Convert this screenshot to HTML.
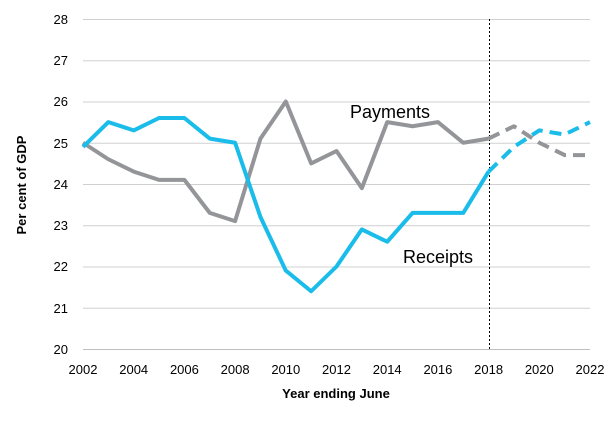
<!DOCTYPE html>
<html><head><meta charset="utf-8"><style>
html,body{margin:0;padding:0;background:#fff;}
svg{display:block;font-family:"Liberation Sans",sans-serif;}
</style></head><body>
<svg width="616" height="446" viewBox="0 0 616 446">
<g stroke="#d0d0d0" stroke-width="1">
<line x1="83" x2="590" y1="19.5" y2="19.5"/>
<line x1="83" x2="590" y1="60.75" y2="60.75"/>
<line x1="83" x2="590" y1="102" y2="102"/>
<line x1="83" x2="590" y1="143.25" y2="143.25"/>
<line x1="83" x2="590" y1="184.5" y2="184.5"/>
<line x1="83" x2="590" y1="225.75" y2="225.75"/>
<line x1="83" x2="590" y1="267" y2="267"/>
<line x1="83" x2="590" y1="308.25" y2="308.25"/>
</g>
<line x1="83" x2="590" y1="349.5" y2="349.5" stroke="#bfbfbf" stroke-width="1"/>
<line x1="489.5" x2="489.5" y1="19" y2="349" stroke="#000" stroke-width="1" stroke-dasharray="2,2"/>
<g font-size="13" fill="#000" text-anchor="end">
<text x="68" y="24">28</text><text x="68" y="65">27</text><text x="68" y="106">26</text>
<text x="68" y="148">25</text><text x="68" y="189">24</text><text x="68" y="230">23</text>
<text x="68" y="271">22</text><text x="68" y="313">21</text><text x="68" y="354">20</text>
</g>
<g font-size="13" fill="#000" text-anchor="middle">
<text x="83" y="374">2002</text><text x="133.7" y="374">2004</text><text x="184.4" y="374">2006</text>
<text x="235.1" y="374">2008</text><text x="285.8" y="374">2010</text><text x="336.5" y="374">2012</text>
<text x="387.2" y="374">2014</text><text x="437.9" y="374">2016</text><text x="488.6" y="374">2018</text>
<text x="539.3" y="374">2020</text><text x="590" y="374">2022</text>
</g>
<text x="336" y="398" font-size="13" font-weight="bold" text-anchor="middle">Year ending June</text>
<text transform="translate(26,185) rotate(-90)" font-size="13" font-weight="bold" text-anchor="middle">Per cent of GDP</text>
<g fill="none" stroke-width="4" stroke-linejoin="round">
<polyline stroke="#939598" points="83,142.75 108.35,159.25 133.7,171.6 159.05,179.9 184.4,179.9 209.75,212.9 235.1,221.1 260.45,138.6 285.8,101.5 311.15,163.4 336.5,151 361.85,188.1 387.2,122.1 412.55,126.25 437.9,122.1 463.25,142.75 488.6,138.6"/>
<polyline stroke="#939598" stroke-dasharray="12,7" points="488.6,138.6 513.95,126.25 539.3,142.75 564.65,155.1 590,155.1"/>
<polyline stroke="#1ABCEA" points="83,146.9 108.35,122.1 133.7,130.4 159.05,118 184.4,118 209.75,138.6 235.1,142.75 260.45,217 285.8,270.6 311.15,291.25 336.5,266.5 361.85,229.4 387.2,241.75 412.55,212.9 437.9,212.9 463.25,212.9 488.6,171.6"/>
<polyline stroke="#1ABCEA" stroke-dasharray="12,7" points="488.6,171.6 513.95,146.9 539.3,130.4 564.65,134.5 590,122.1"/>
</g>
<text x="350" y="118" font-size="18" fill="#000">Payments</text>
<text x="403" y="263" font-size="18" fill="#000">Receipts</text>
</svg>
</body></html>
